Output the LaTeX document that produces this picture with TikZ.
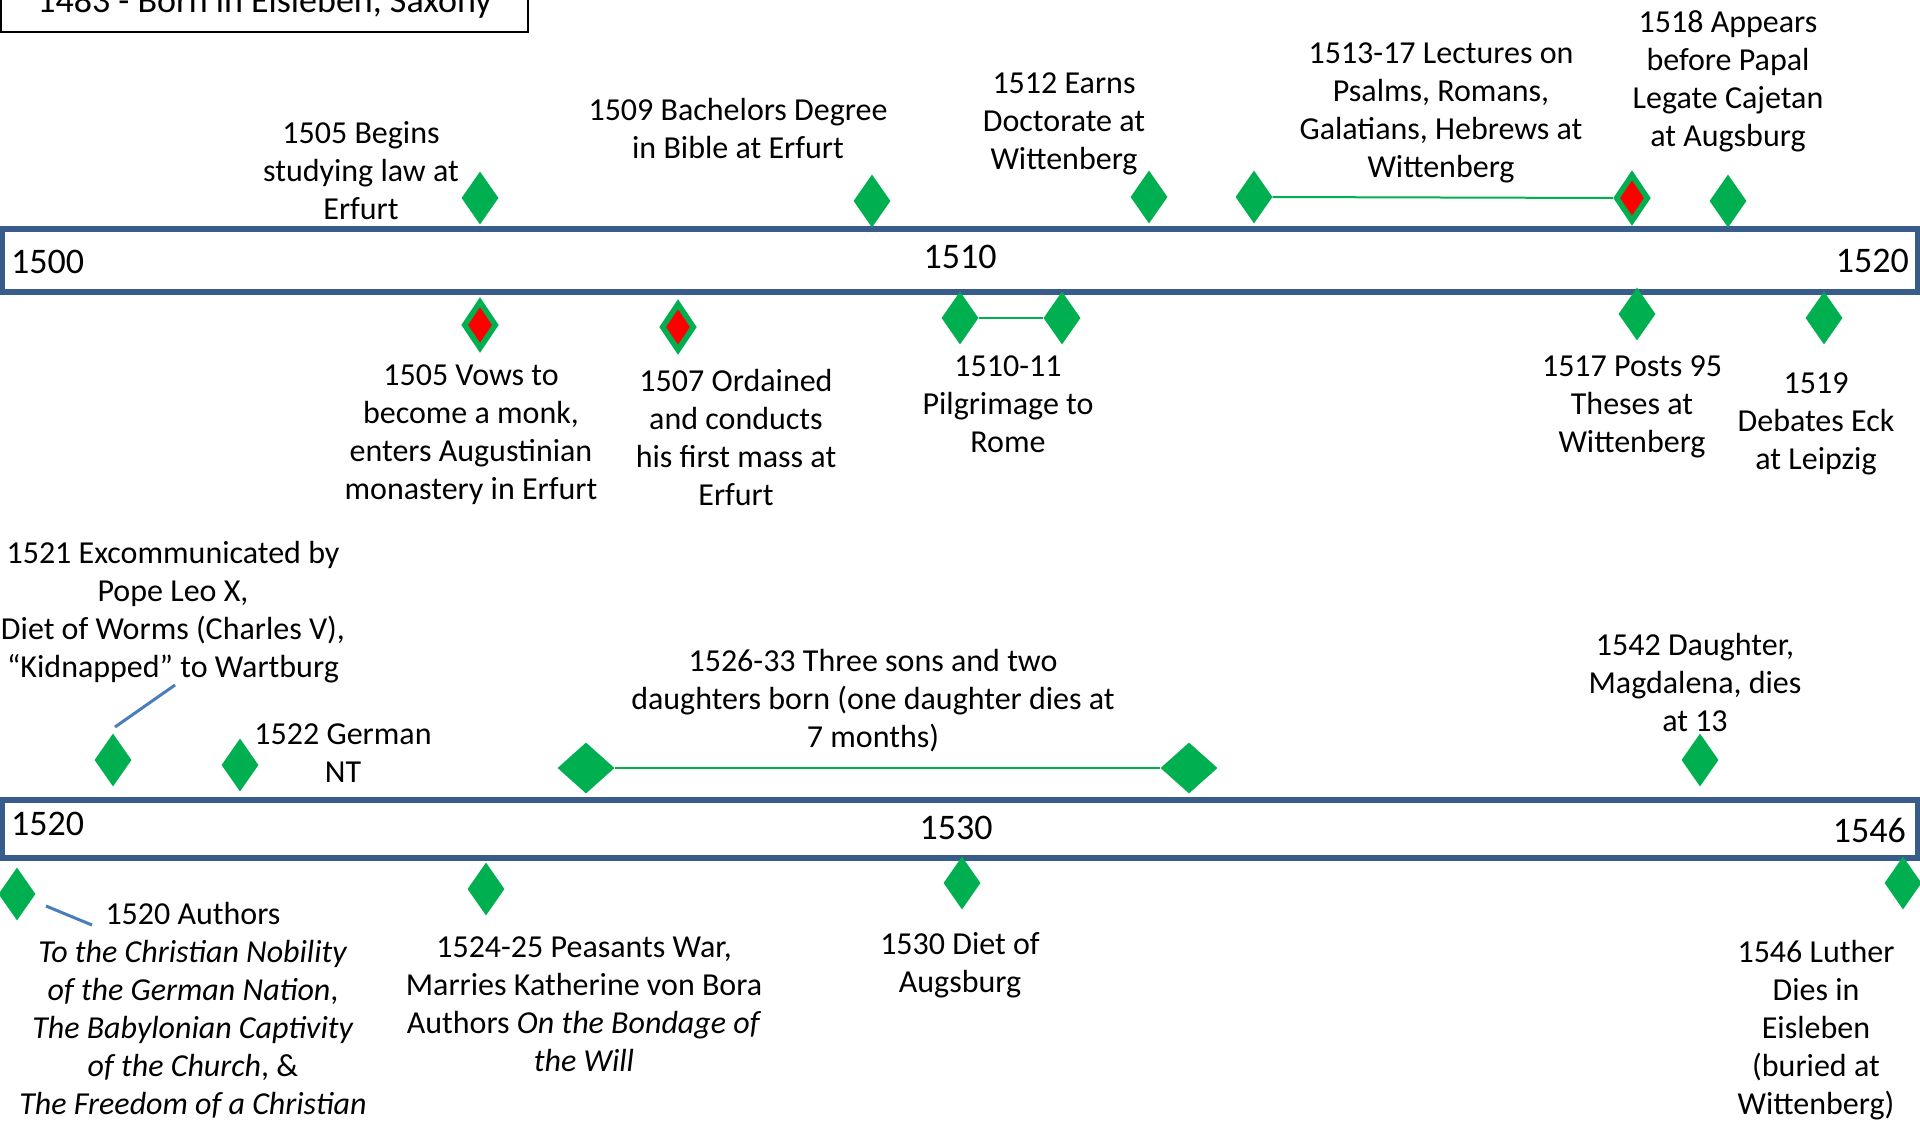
\documentclass[tikz,border=0pt]{standalone}
\usepackage{fontspec}
\setmainfont{Carlito}
\usetikzlibrary{shapes.geometric}
\definecolor{evgreen}{HTML}{00B050}
\definecolor{barblue}{HTML}{385D8A}
\definecolor{linkblue}{HTML}{4A7EBB}
\begin{document}
\begin{tikzpicture}[x=1pt,y=-1pt,
  lbl/.style={align=center, inner sep=0pt, font=\fontsize{32}{38}\selectfont, yshift=-4pt},
  yr/.style={inner sep=0pt, font=\fontsize{36}{44}\selectfont},
  gdia/.style={diamond, fill=evgreen, draw=none, inner sep=0pt, minimum width=37pt, minimum height=53pt},
  rdia/.style={diamond, fill=red, draw=evgreen, line width=5.5pt, inner sep=0pt, minimum width=33pt, minimum height=48pt},
  bdia/.style={gdia, minimum width=57pt, minimum height=51pt},
  spanline/.style={draw=evgreen, line width=2pt},
  linkline/.style={draw=linkblue, line width=3pt},
  tlbar/.style={draw=barblue, line width=6pt, fill=white, inner sep=0pt, minimum width=1916.5pt},
]
\useasboundingbox (0,0) rectangle (1920,1120);
\fill[white] (0,0) rectangle (1920,1120);

% top box
\node[draw=black, line width=1.5pt, minimum width=527pt, minimum height=58pt, inner sep=0pt,
      text height=26pt, text depth=7pt, font=\fontsize{36}{44}\selectfont]
  (born) at (264.5,3) {1483 - Born in Eisleben, Saxony};

% timeline bars
\node[tlbar, minimum height=63pt] (bar1) at (959.75,260.5) {};
\node[tlbar, minimum height=58pt] (bar2) at (959.75,829) {};

\node[yr, anchor=base west] (y1500) at (11,273) {1500};
\node[yr, anchor=base] (y1510) at (960,268) {1510};
\node[yr, anchor=base east] (y1520a) at (1909,272) {1520};
\node[yr, anchor=base west] (y1520b) at (11,835) {1520};
\node[yr, anchor=base] (y1530) at (956,839) {1530};
\node[yr, anchor=base east] (y1546) at (1906,842) {1546};

% diamonds above bar 1
\node[gdia] (dA) at (480,198) {};
\node[gdia] (dB) at (872,201) {};
\node[gdia] (dC) at (1149,197) {};
\node[gdia] (dD) at (1254,197) {};
\node[rdia] (dE) at (1632,198) {};
\node[gdia] (dF) at (1728,201) {};
\draw[spanline] (dD.east) -- (dE.west);

% diamonds below bar 1
\node[rdia] (dG) at (480,325) {};
\node[rdia] (dH) at (678,327) {};
\node[gdia] (dI) at (960,318) {};
\node[gdia] (dJ) at (1062,318) {};
\draw[spanline] (dI.east) -- (dJ.west);
\node[gdia] (dK) at (1637,314) {};
\node[gdia] (dL) at (1824,318) {};

% diamonds above bar 2
\node[gdia] (dM) at (113,760) {};
\node[gdia] (dN) at (240,765) {};
\node[bdia] (dO) at (586,768) {};
\node[bdia] (dP) at (1189,768) {};
\draw[spanline] (dO.east) -- (dP.west);
\node[gdia] (dQ) at (1700,760) {};

% diamonds below bar 2
\node[gdia] (dR) at (17,894) {};
\node[gdia] (dS) at (486,889) {};
\node[gdia] (dT) at (962,883) {};
\node[gdia] (dU) at (1903,883) {};

% labels above bar 1
\node[lbl] (t1505a) at (361,170) {\strut 1505 Begins\\ studying law at\\ Erfurt\strut};
\node[lbl] (t1509) at (738,128) {\strut 1509 Bachelors Degree\\ in Bible at Erfurt\strut};
\node[lbl] (t1512) at (1064,120) {\strut 1512 Earns\\ Doctorate at\\ Wittenberg\strut};
\node[lbl] (t1513) at (1441,109) {\strut 1513-17 Lectures on\\ Psalms, Romans,\\ Galatians, Hebrews at\\ Wittenberg\strut};
\node[lbl] (t1518) at (1728,78) {\strut 1518 Appears\\ before Papal\\ Legate Cajetan\\ at Augsburg\strut};

% labels below bar 1
\node[lbl] (t1505b) at (471,431) {\strut 1505 Vows to\\ become a monk,\\ enters Augustinian\\ monastery in Erfurt\strut};
\node[lbl] (t1507) at (736,437) {\strut 1507 Ordained\\ and conducts\\ his first mass at\\ Erfurt\strut};
\node[lbl] (t1510) at (1008,403) {\strut 1510-11\\ Pilgrimage to\\ Rome\strut};
\node[lbl] (t1517) at (1632,403) {\strut 1517 Posts 95\\ Theses at\\ Wittenberg\strut};
\node[lbl] (t1519) at (1816,420) {\strut 1519\\ Debates Eck\\ at Leipzig\strut};

% labels above bar 2
\node[lbl] (t1521) at (173,608.5) {\strut 1521 Excommunicated by\\ Pope Leo X,\\ Diet of Worms (Charles V),\\ “Kidnapped” to Wartburg\strut};
\node[lbl] (t1522) at (343,752) {\strut 1522 German\\ NT\strut};
\node[lbl] (t1526) at (873,698) {\strut 1526-33 Three sons and two\\ daughters born (one daughter dies at\\ 7 months)\strut};
\node[lbl] (t1542) at (1695,682) {\strut 1542 Daughter,\\ Magdalena, dies\\ at 13\strut};

% labels below bar 2
\node[lbl] (t1520) at (193,1007.5) {\strut 1520 Authors\\ \textit{To the Christian Nobility}\\ \textit{of the German Nation},\\ \textit{The Babylonian Captivity}\\ \textit{of the Church}, \&\\ \textit{The Freedom of a Christian}\strut};
\node[lbl] (t1524) at (584,1003) {\strut 1524-25 Peasants War,\\ Marries Katherine von Bora\\ Authors \textit{On the Bondage of}\\ \textit{the Will}\strut};
\node[lbl] (t1530) at (960,962) {\strut 1530 Diet of\\ Augsburg\strut};
\node[lbl] (t1546) at (1816,1027) {\strut 1546 Luther\\ Dies in\\ Eisleben\\ (buried at\\ Wittenberg)\strut};

% blue callout lines
\coordinate (k1a) at (115,727);
\coordinate (k1b) at (175,685);
\draw[linkline] (k1a) -- (k1b);
\coordinate (k2a) at (46,906);
\coordinate (k2b) at (92,925);
\draw[linkline] (k2a) -- (k2b);
\end{tikzpicture}
\end{document}
